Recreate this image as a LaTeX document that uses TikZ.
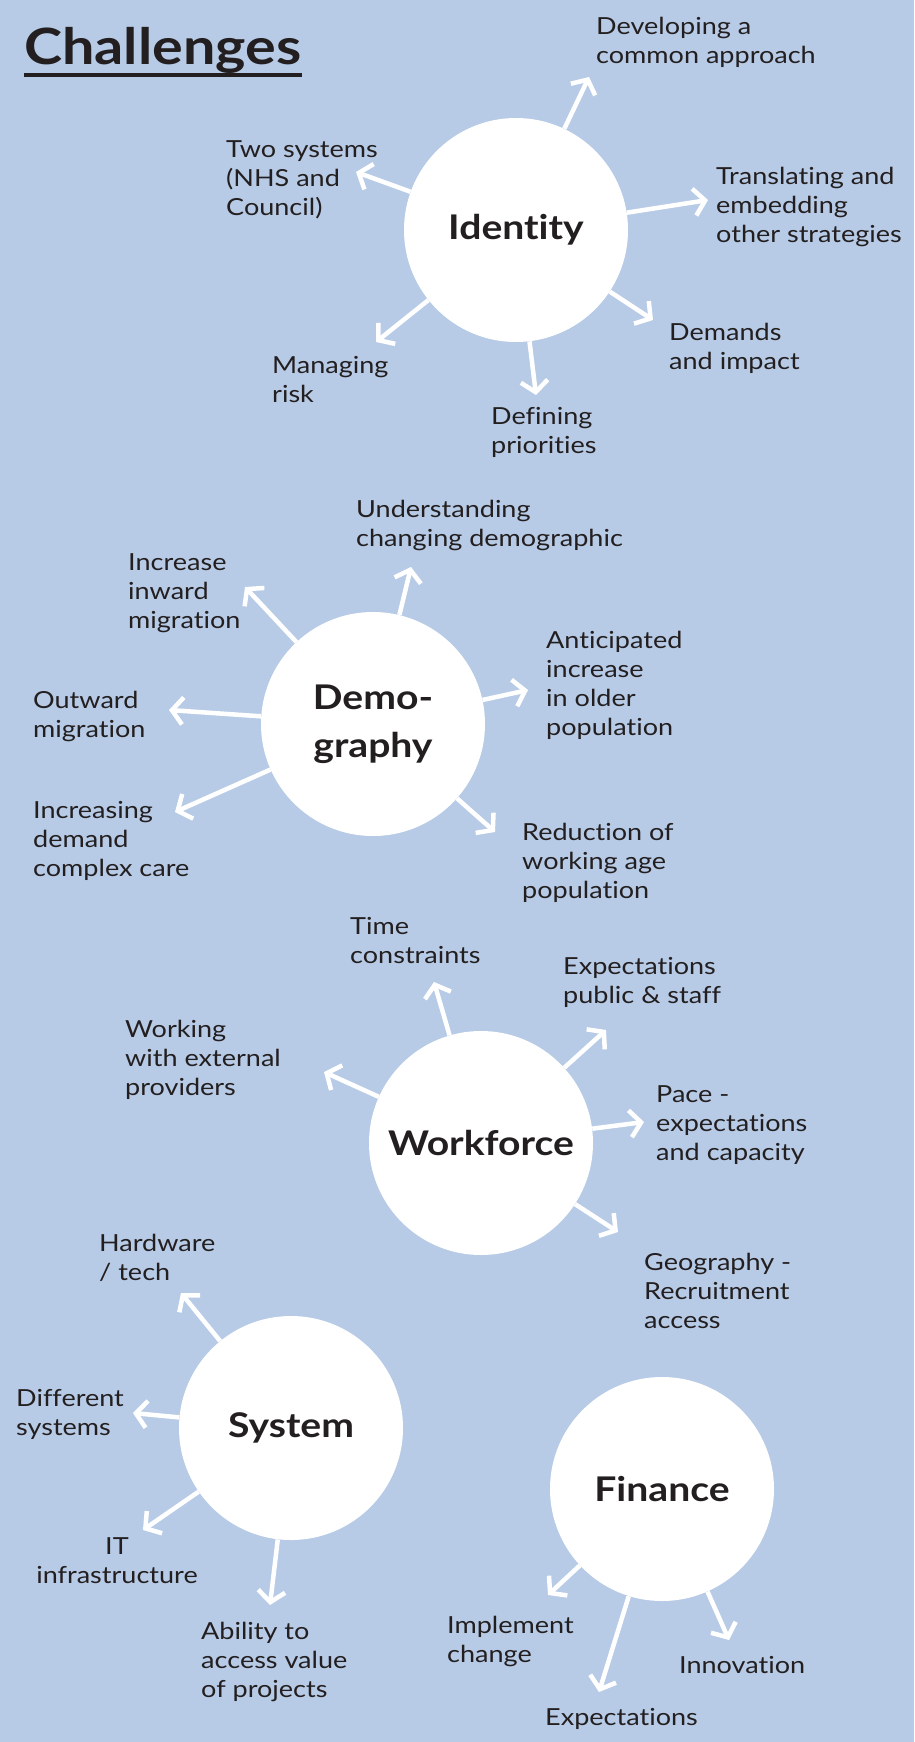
\documentclass[tikz,border=0pt]{standalone}
\usepackage{fontspec}
\setmainfont{Lato}[Ligatures=NoCommon,FakeStretch=1.15]
\usetikzlibrary{arrows.meta}
\definecolor{bg}{HTML}{B7CBE6}
\definecolor{ink}{HTML}{231F20}
\begin{document}
\begin{tikzpicture}[x=1pt,y=-1pt,
 hub/.style={circle,fill=white,minimum size=224pt,inner sep=0pt,font=\fontsize{34}{48}\selectfont\bfseries,text=ink,align=center},
 lbl/.style={font=\fontsize{23.5}{29}\selectfont,text=ink,align=left,inner sep=0pt,anchor=base west},
 arr/.style={white,line width=4.5pt,-{Straight Barb[length=11pt,width=27pt]}}]
\useasboundingbox (0,0) rectangle (914,1742);
\fill[bg] (0,0) rectangle (914,1742);
% title
\node[font=\fontsize{50}{60}\selectfont\bfseries,text=ink,inner sep=0pt,anchor=base west] (ttl) at (24,65) {Challenges};
\draw[ink,line width=4pt] ([yshift=-10pt]ttl.base west) -- ([yshift=-10pt]ttl.base east);
% Identity
\node[hub] (id) at (516,230) {Identity};
\coordinate (i1) at (589,77);
\coordinate (i2) at (356,172);
\coordinate (i3) at (708,200);
\coordinate (i4) at (653,320);
\coordinate (i5) at (376,342);
\coordinate (i6) at (536,395);
\foreach \t in {i1,i2,i3,i4,i5,i6} \draw[arr] (id) -- (\t);
\node[lbl] (dev) at (596,64) {Developing a\\common approach};
\node[lbl] (two) at (226,215) {Two systems\\(NHS and\\Council)};
\node[lbl] (tra) at (716,242) {Translating and\\embedding\\other strategies};
\node[lbl] (dmi) at (669,369) {Demands\\and impact};
\node[lbl] (man) at (272,402) {Managing\\risk};
\node[lbl] (def) at (491,453) {Defining\\priorities};
% Demography
\node[hub] (dm) at (373,724) {Demo-\\graphy};
\coordinate (d1) at (411,567);
\coordinate (d2) at (245,587);
\coordinate (d3) at (528,690);
\coordinate (d4) at (169,710);
\coordinate (d5) at (175,812);
\coordinate (d6) at (495,832);
\foreach \t in {d1,d2,d3,d4,d5,d6} \draw[arr] (dm) -- (\t);
\node[lbl] (und) at (356,546) {Understanding\\changing demographic};
\node[lbl] (inc) at (128,628) {Increase\\inward\\migration};
\node[lbl] (ant) at (546,735) {Anticipated\\increase\\in older\\population};
\node[lbl] (out) at (33,737) {Outward\\migration};
\node[lbl] (icd) at (33,876) {Increasing\\demand\\complex care};
\node[lbl] (red) at (522,898) {Reduction of\\working age\\population};
% Workforce
\node[hub] (wf) at (481,1143) {Workforce};
\coordinate (w1) at (434,982);
\coordinate (w2) at (606,1030);
\coordinate (w3) at (324,1072);
\coordinate (w4) at (644,1122);
\coordinate (w5) at (618,1232);
\foreach \t in {w1,w2,w3,w4,w5} \draw[arr] (wf) -- (\t);
\node[lbl] (tim) at (350,963) {Time\\constraints};
\node[lbl] (exs) at (563,1003) {Expectations\\public \& staff};
\node[lbl] (wrk) at (125,1095) {Working\\with external\\providers};
\node[lbl] (pac) at (656,1160) {Pace -\\expectations\\and capacity};
\node[lbl] (geo) at (644,1328) {Geography -\\Recruitment\\access};
% System
\node[hub] (sy) at (291,1428) {System};
\coordinate (s1) at (181,1293);
\coordinate (s2) at (133,1413);
\coordinate (s3) at (143,1530);
\coordinate (s4) at (270,1605);
\foreach \t in {s1,s2,s3,s4} \draw[arr] (sy) -- (\t);
\node[lbl] (hw) at (99,1280) {Hardware\\/ tech};
\node[lbl] (dif) at (16,1435) {Different\\systems};
\node[lbl,align=center,anchor=base] (itf) at (117,1583) {IT\\infrastructure};
\node[lbl] (abl) at (201,1697) {Ability to\\access value\\of projects};
% Finance
\node[hub] (fi) at (662,1489) {Finance};
\coordinate (f1) at (548,1595);
\coordinate (f2) at (599,1692);
\coordinate (f3) at (729,1640);
\foreach \t in {f1,f2,f3} \draw[arr] (fi) -- (\t);
\node[lbl] (imp) at (447,1662) {Implement\\change};
\node[lbl] (inn) at (679,1673) {Innovation};
\node[lbl] (exf) at (545,1725) {Expectations};
\end{tikzpicture}
\end{document}
